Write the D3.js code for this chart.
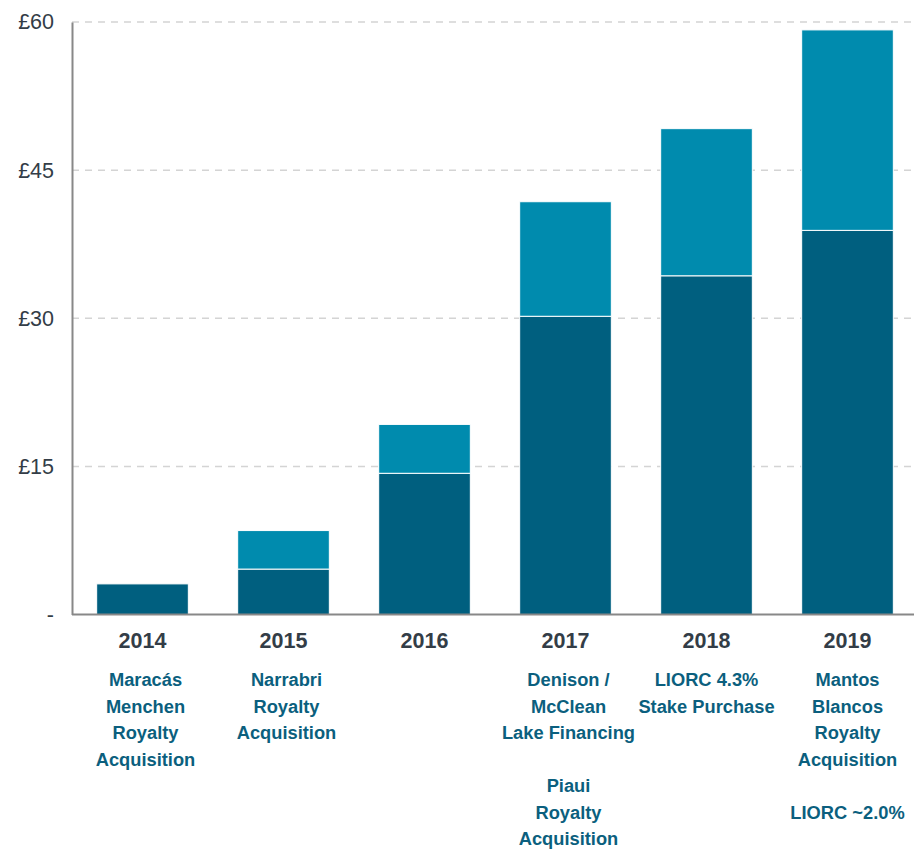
<!DOCTYPE html>
<html><head><meta charset="utf-8">
<script src="https://cdn.jsdelivr.net/npm/d3@7"></script>
<style>body{margin:0;background:#fff}svg{display:block}</style>
</head><body>
<svg id="c" width="914" height="849"></svg>
<script>
const years = ["2014","2015","2016","2017","2018","2019"];
const baseValues = [3.1, 4.6, 14.3, 30.2, 34.3, 38.9];
const topValues = [0, 3.9, 4.95, 11.6, 14.9, 20.3];
const yTicks = [0, 15, 30, 45, 60];
const yTickLabels = ["-", "£15", "£30", "£45", "£60"];
const annotations = [
  ["Maracás","Menchen","Royalty","Acquisition"],
  ["Narrabri","Royalty","Acquisition"],
  [],
  ["Denison /","McClean","Lake Financing","","Piaui","Royalty","Acquisition"],
  ["LIORC 4.3%","Stake Purchase"],
  ["Mantos","Blancos","Royalty","Acquisition","","LIORC ~2.0%"]
];

const svg = d3.select("#c");
const x = d3.scaleBand().domain(years).range([72, 918]).paddingInner(0.35).paddingOuter(0.175);
const y = d3.scaleLinear().domain([0, 60]).range([614.5, 22]);
const font = "Liberation Sans, Arial, sans-serif";

// gridlines
svg.append("g").selectAll("line").data(yTicks.filter(d => d > 0)).join("line")
  .attr("x1", 72).attr("x2", 914)
  .attr("y1", d => y(d)).attr("y2", d => y(d))
  .attr("stroke", "#d4d4d4").attr("stroke-width", 1.5).attr("stroke-dasharray", "7,6");

// bars
const data = years.map((yr, i) => ({yr, base: baseValues[i], top: topValues[i]}));
const stack = d3.stack().keys(["base","top"])(data);
const colors = {base: "#005f7f", top: "#008bae"};
stack.forEach(layer => {
  svg.append("g").selectAll("rect").data(layer.filter(d => d[1] - d[0] > 0)).join("rect")
    .attr("x", d => x(d.data.yr))
    .attr("width", x.bandwidth())
    .attr("y", d => y(d[1]))
    .attr("height", d => y(d[0]) - y(d[1]))
    .attr("fill", colors[layer.key])
    .attr("stroke", "#fff").attr("stroke-width", 1);
});

// y axis
const yAxis = d3.axisLeft(y).tickValues(yTicks).tickFormat((d, i) => yTickLabels[i]).tickSize(0).tickPadding(18);
const ga = svg.append("g").attr("transform", "translate(72,0)").call(yAxis);
ga.select(".domain").attr("stroke", "#888").attr("stroke-width", 2);
ga.selectAll("text").attr("font-family", font).attr("font-size", 21.5).attr("fill", "#333d47");

// x axis line
svg.append("line").attr("x1", 72).attr("x2", 914).attr("y1", y(0)).attr("y2", y(0))
  .attr("stroke", "#888").attr("stroke-width", 2);

// year labels
const xAxis = d3.axisBottom(x).tickSize(0).tickPadding(18);
const gx = svg.append("g").attr("transform", `translate(0,${y(0)})`).call(xAxis);
gx.select(".domain").remove();
gx.selectAll("text").attr("font-family", font).attr("font-size", 21.5)
  .attr("font-weight", "bold").attr("fill", "#333d47");

// annotations
const ann = svg.append("g").attr("font-family", font)
  .attr("font-size", 18.3).attr("font-weight", "bold").attr("fill", "#0b5f7e").attr("text-anchor", "middle");
annotations.forEach((lines, i) => {
  lines.forEach((t, j) => {
    if (!t) return;
    ann.append("text").attr("x", x(years[i]) + x.bandwidth() / 2 + (i < 4 ? 3 : 0)).attr("y", 686 + j * 26.5).text(t);
  });
});
</script>
</body></html>
